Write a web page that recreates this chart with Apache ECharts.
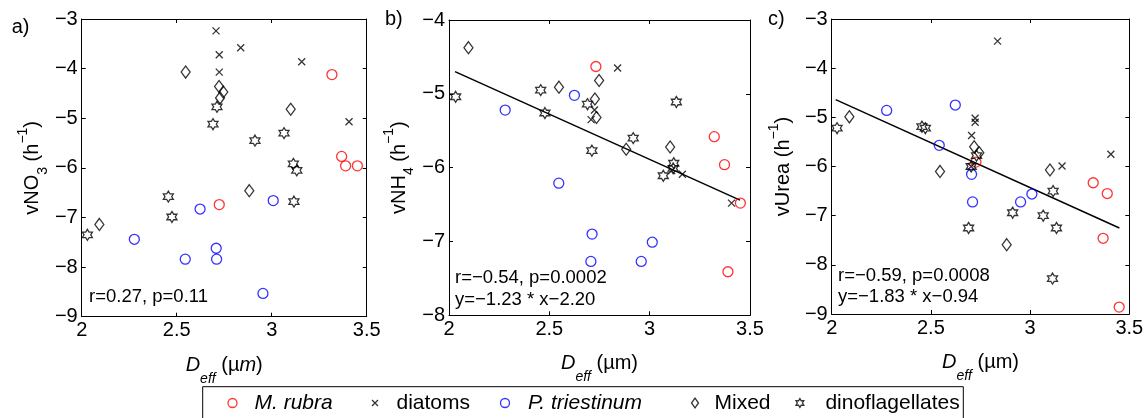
<!DOCTYPE html>
<html>
<head>
<meta charset="utf-8">
<script src="https://cdn.jsdelivr.net/npm/echarts@6/dist/echarts.min.js"></script>
<style>
html,body{margin:0;padding:0;background:#fff;}
#chart{width:1148px;height:418px;}
</style>
</head>
<body>
<div id="chart"></div>
<script>
// ---------------- DATA ----------------
const xTicks = [2, 2.5, 3, 3.5];
const groupNames = ['M. rubra', 'diatoms', 'P. triestinum', 'Mixed', 'dinoflagellates'];
const panelLetters = ['a)', 'b)', 'c)'];
const statTextA = ['r=0.27, p=0.11'];
const statTextB = ['r=\u22120.54, p=0.0002', 'y=\u22121.23 * x\u22122.20'];
const statTextC = ['r=\u22120.59, p=0.0008', 'y=\u22121.83 * x\u22120.94'];

// panel a) vNO3
const aMrubra = [[3.317,-4.12],[3.368,-5.77],[3.389,-5.96],[3.451,-5.96],[2.724,-6.74]];
const aDiatoms = [[2.707,-3.24],[2.724,-3.72],[2.837,-3.58],[2.724,-4.07],[3.158,-3.86],[3.407,-5.07]];
const aPtri = [[2.623,-6.83],[3.008,-6.66],[2.277,-7.44],[2.708,-7.62],[2.710,-7.84],[2.545,-7.84],[2.954,-8.53]];
const aMixed = [[2.547,-4.07],[2.723,-4.36],[2.745,-4.47],[2.728,-4.59],[3.100,-4.82],[2.882,-6.46],[2.093,-7.14]];
const aDino = [[2.712,-4.77],[2.691,-5.12],[2.912,-5.45],[3.065,-5.30],[3.114,-5.92],[3.132,-6.05],[2.456,-6.58],[2.475,-6.99],[3.117,-6.68],[2.030,-7.35]];

// panel b) vNH4
const bMrubra = [[2.732,-4.63],[3.322,-5.58],[3.373,-5.96],[3.452,-6.48],[3.390,-7.41]];
const bDiatoms = [[2.840,-4.65],[2.725,-5.22],[2.708,-5.35],[3.110,-6.04],[3.163,-6.09],[3.408,-6.48]];
const bPtri = [[2.280,-5.22],[2.625,-5.02],[2.547,-6.21],[2.713,-6.90],[3.013,-7.01],[2.707,-7.27],[2.958,-7.27]];
const bMixed = [[2.097,-4.375],[2.548,-4.91],[2.748,-4.82],[2.727,-5.07],[2.735,-5.32],[2.883,-5.75],[3.102,-5.72]];
const bDino = [[2.033,-5.04],[2.457,-4.95],[2.478,-5.26],[2.690,-5.14],[2.712,-5.77],[2.918,-5.60],[3.133,-5.11],[3.120,-5.94],[3.117,-6.01],[3.068,-6.11]];
const bFit = [[2.03,-4.70],[3.45,-6.44]];

// panel c) vUrea
const cMrubra = [[2.727,-5.91],[3.318,-6.33],[3.389,-6.55],[3.368,-7.46],[3.449,-8.86]];
const cDiatoms = [[2.836,-3.45],[2.723,-5.02],[2.723,-5.10],[2.705,-5.37],[2.703,-6.00],[3.161,-5.99],[3.407,-5.75]];
const cPtri = [[2.277,-4.86],[2.623,-4.75],[2.542,-5.57],[2.705,-6.16],[2.710,-6.72],[2.952,-6.72],[3.009,-6.56]];
const cMixed = [[2.089,-4.99],[2.718,-5.60],[2.744,-5.72],[2.546,-6.10],[3.100,-6.07],[2.882,-7.59]];
const cDino = [[2.027,-5.22],[2.455,-5.19],[2.472,-5.22],[2.730,-5.78],[2.703,-6.00],[3.116,-6.50],[2.912,-6.94],[3.066,-7.00],[2.690,-7.25],[3.133,-7.25],[3.113,-8.28]];
const cFit = [[2.02,-4.64],[3.45,-7.25]];

// ---------------- STYLE ----------------
const FONT = '"Liberation Sans", Arial, Helvetica, sans-serif';
const RED = '#ff0000', BLUE = '#0000ff', BLACK = '#000000';
const XMARK = 'path://M0,0L10,10M0,10L10,0';
const DIAM = 'path://M5,0L10,7L5,14L0,7Z';
const HEXA = 'path://M10,0L12.887,5L18.66,5L15.774,10L18.66,15L12.887,15L10,20L7.113,15L1.34,15L4.226,10L1.34,5L7.113,5Z';

const groupStyle = [
  {symbol:'circle', size:10, color:RED, width:1.3},
  {symbol:XMARK, size:7, color:BLACK, width:1.3},
  {symbol:'circle', size:10, color:BLUE, width:1.3},
  {symbol:DIAM, size:[9,12], color:BLACK, width:1.3},
  {symbol:HEXA, size:[10,11], color:BLACK, width:1.3}
];

const panels = [
  {grid:{left:81.7, top:19, width:285, height:297.7}, ymin:-9, ymax:-3,
   groups:[aMrubra,aDiatoms,aPtri,aMixed,aDino], fit:null,
   yname:'{m|vNO}{s|3}{m| (h}{p|\u22121}{m|)}', ygap:32,
   xname:'{d|D}{s|eff}{m| (\u00b5}{i|m}{m|)}',
   stats:statTextA, statX:89, statY:[296.7]},
  {grid:{left:449, top:20, width:301, height:295.3}, ymin:-8, ymax:-4,
   groups:[bMrubra,bDiatoms,bPtri,bMixed,bDino], fit:bFit,
   yname:'{m|vNH}{s|4}{m| (h}{p|\u22121}{m|)}', ygap:33,
   xname:'{d|D}{s|eff}{m| (\u00b5m)}',
   stats:statTextB, statX:455, statY:[278.3,300]},
  {grid:{left:831.7, top:19, width:297.6, height:295}, ymin:-9, ymax:-3,
   groups:[cMrubra,cDiatoms,cPtri,cMixed,cDino], fit:cFit,
   yname:'{m|vUrea (h}{p|\u22121}{m|)}', ygap:31,
   xname:'{d|D}{s|eff}{m| (\u00b5m)}',
   stats:statTextC, statX:838, statY:[275.7,297.3]}
];

const fmtNum = v => (v < 0 ? '\u2212' : '') + Math.abs(v);

function makeRich(lh, subItalic) {
  return {
    m:{fontFamily:FONT, fontSize:20, color:BLACK, lineHeight:lh},
    d:{fontFamily:FONT, fontSize:20, fontStyle:'italic', color:BLACK, lineHeight:lh},
    i:{fontFamily:FONT, fontSize:20, fontStyle:'italic', color:BLACK, lineHeight:lh},
    s:{fontFamily:FONT, fontSize:14, fontStyle:subItalic ? 'italic' : 'normal', color:BLACK, lineHeight:14, verticalAlign:'bottom'},
    p:{fontFamily:FONT, fontSize:14, color:BLACK, lineHeight:14, verticalAlign:'top'}
  };
}

const grids = [], xAxes = [], yAxes = [], series = [], graphics = [];

panels.forEach((p, k) => {
  grids.push(Object.assign({containLabel:false, show:false}, p.grid));
  const lineSt = {lineStyle:{color:BLACK, width:1}};
  const tick = {show:true, inside:true, length:4, lineStyle:{color:BLACK, width:1}};
  xAxes.push({
    type:'value', gridIndex:k, position:'bottom', min:xTicks[0], max:xTicks[xTicks.length-1], interval:0.5,
    axisLine:Object.assign({show:true}, lineSt), axisTick:tick, splitLine:{show:false},
    axisLabel:{show:true, margin:4, fontFamily:FONT, fontSize:20, color:BLACK, formatter:fmtNum},
    name:p.xname, nameLocation:'middle', nameGap:28,
    nameTextStyle:{rich:makeRich(41, true)}
  });
  xAxes.push({
    type:'value', gridIndex:k, position:'top', min:xTicks[0], max:xTicks[xTicks.length-1], interval:0.5,
    axisLine:Object.assign({show:true}, lineSt), axisTick:tick, splitLine:{show:false}, axisLabel:{show:false}
  });
  yAxes.push({
    type:'value', gridIndex:k, position:'left', min:p.ymin, max:p.ymax, interval:1,
    axisLine:Object.assign({show:true}, lineSt), axisTick:tick, splitLine:{show:false},
    axisLabel:{show:true, margin:4, fontFamily:FONT, fontSize:20, color:BLACK, formatter:fmtNum},
    name:p.yname, nameLocation:'middle', nameRotate:90, nameGap:p.ygap,
    nameTextStyle:{rich:makeRich(34, false)}
  });
  yAxes.push({
    type:'value', gridIndex:k, position:'right', min:p.ymin, max:p.ymax, interval:1,
    axisLine:Object.assign({show:true}, lineSt), axisTick:tick, splitLine:{show:false}, axisLabel:{show:false}
  });
  p.groups.forEach((data, g) => {
    const st = groupStyle[g];
    series.push({
      type:'scatter', name:groupNames[g], xAxisIndex:2*k, yAxisIndex:2*k, data:data,
      symbol:st.symbol, symbolSize:st.size, symbolKeepAspect:false, silent:true,
      itemStyle:{color:'none', borderColor:st.color, borderWidth:st.width},
      z:3
    });
  });
  if (p.fit) {
    series.push({
      type:'line', name:'fit'+k, xAxisIndex:2*k, yAxisIndex:2*k, data:p.fit,
      symbol:'none', silent:true, lineStyle:{color:BLACK, width:1.5}, z:2
    });
  }
  p.stats.forEach((t, j) => {
    graphics.push({type:'text', silent:true, style:{text:t, x:p.statX, y:p.statY[j], font:'18.5px ' + FONT, fill:BLACK, verticalAlign:'middle'}});
  });
});

const letterPos = [[11.7,27],[385,19.5],[768,19.5]];
panelLetters.forEach((t, k) => {
  graphics.push({type:'text', silent:true, style:{text:t, x:letterPos[k][0], y:letterPos[k][1], font:'20px ' + FONT, fill:BLACK, verticalAlign:'middle'}});
});
// legend frame
graphics.push({type:'rect', silent:true, z:-1, shape:{x:202.7, y:386.7, width:760.6, height:45}, style:{fill:'#fff', stroke:BLACK, lineWidth:1}});

// legend layout: icon centre and text start (px)
const legendIconX = [230, 372.5, 502.5, 692.5, 797.5];
const legendTextX = [252, 394, 525.5, 712, 823];
const legendIconWH = [[9,9],[6,6],[9,9],[7,10],[8,9]];
const legends = groupNames.map((n, g) => {
  const st = groupStyle[g];
  const w = legendIconWH[g][0], h = legendIconWH[g][1];
  const left = legendIconX[g] - w / 2;
  const pad = legendTextX[g] - (left + w + 5);
  return {
    show:true, data:[n], left:left, top:392, orient:'horizontal', padding:0,
    itemWidth:w, itemHeight:h, itemGap:0, selectedMode:false, z:10,
    icon:st.symbol,
    itemStyle:{color:'none', borderColor:st.color, borderWidth:1.3},
    textStyle:{fontFamily:FONT, fontSize:21, color:BLACK, fontStyle:(g === 0 || g === 2) ? 'italic' : 'normal', lineHeight:22, padding:[0,0,0,pad]}
  };
});

const chart = echarts.init(document.getElementById('chart'), null, {renderer:'canvas'});
chart.setOption({
  animation:false,
  backgroundColor:'#ffffff',
  grid:grids, xAxis:xAxes, yAxis:yAxes, series:series,
  legend:legends,
  graphic:{elements:graphics}
});
</script>
</body>
</html>
